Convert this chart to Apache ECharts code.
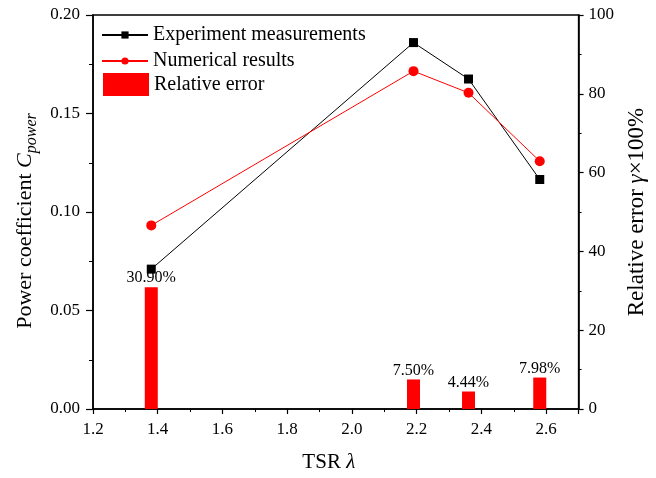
<!DOCTYPE html>
<html><head><meta charset="utf-8">
<script src="https://cdn.jsdelivr.net/npm/echarts@6/dist/echarts.min.js"></script>
<style>html,body{margin:0;padding:0;background:#fff}#c{width:656px;height:478px}</style>
</head><body><div id="c"></div>
<script>
const tsr = [1.38, 2.19, 2.36, 2.58];
const experiment = [0.071, 0.186, 0.1675, 0.1165];
const numerical = [0.0932, 0.1715, 0.1605, 0.1258];
const relError = [30.90, 7.50, 4.44, 7.98];
const errorLabels = ['30.90%', '7.50%', '4.44%', '7.98%'];

const F = 'Liberation Serif, Times New Roman, serif';
const chart = echarts.init(document.getElementById('c'), null, {renderer: 'canvas'});
const pair = (xs, ys) => xs.map((x, i) => [x, ys[i]]);
const legText = {fontFamily: F, fontSize: 20, color: '#000'};

chart.setOption({
  animation: false,
  textStyle: {fontFamily: F, color: '#000'},
  grid: {left: 93, right: 72, top: 15, bottom: 67, show: true, borderColor: '#000', borderWidth: 1.5, containLabel: false},
  legend: [{
    left: 96, top: 20, orient: 'vertical', itemGap: 6, itemWidth: 46, itemHeight: 9,
    textStyle: legText,
    data: ['Experiment measurements', 'Numerical results']
  }, {
    left: 98, top: 68, orient: 'vertical', itemWidth: 46, itemHeight: 23,
    textStyle: legText,
    data: [{name: 'Relative error', icon: 'rect'}]
  }],
  xAxis: {
    type: 'value', min: 1.2, max: 2.7, interval: 0.2,
    name: '{n|TSR }{i|λ}', nameLocation: 'middle', nameGap: 43,
    nameTextStyle: {padding: [0, 14, 0, 0], rich: {n: {fontFamily: F, fontSize: 21, color: '#000'}, i: {fontFamily: F, fontSize: 21, fontStyle: 'italic', color: '#000'}}},
    axisLine: {lineStyle: {color: '#000', width: 1.5}},
    axisTick: {inside: false, length: 5, lineStyle: {color: '#000', width: 1.2}},
    minorTick: {show: true, splitNumber: 2, length: 3, lineStyle: {color: '#000', width: 1}},
    axisLabel: {fontFamily: F, fontSize: 17, color: '#000', margin: 12, showMaxLabel: false, formatter: v => v.toFixed(1)},
    splitLine: {show: false}
  },
  yAxis: [{
    type: 'value', min: 0, max: 0.2, interval: 0.05, position: 'left',
    name: '{n|Power coefficient }{i|C}{s|power}', nameLocation: 'middle', nameGap: 47, nameRotate: 90,
    nameTextStyle: {padding: [0, 18, 0, 0], rich: {
      n: {fontFamily: F, fontSize: 22, color: '#000', lineHeight: 30},
      i: {fontFamily: F, fontSize: 22, fontStyle: 'italic', color: '#000', lineHeight: 30},
      s: {fontFamily: F, fontSize: 16, fontStyle: 'italic', color: '#000', lineHeight: 30, padding: [12, 0, 0, 0]}
    }},
    axisLine: {show: true, lineStyle: {color: '#000', width: 1.5}},
    axisTick: {inside: false, length: 7, lineStyle: {color: '#000', width: 1.2}},
    minorTick: {show: true, splitNumber: 2, length: 4, lineStyle: {color: '#000', width: 1}},
    axisLabel: {fontFamily: F, fontSize: 17, color: '#000', margin: 13, formatter: v => v.toFixed(2)},
    splitLine: {show: false}
  }, {
    type: 'value', min: 0, max: 100, interval: 20, position: 'right',
    name: '{n|Relative error }{i|γ}{n|×100%}', nameLocation: 'middle', nameGap: 42, nameRotate: 90,
    nameTextStyle: {rich: {
      n: {fontFamily: F, fontSize: 23, color: '#000'},
      i: {fontFamily: F, fontSize: 23, fontStyle: 'italic', color: '#000'}
    }},
    axisLine: {show: true, lineStyle: {color: '#000', width: 1.5}},
    axisTick: {inside: false, length: 5, lineStyle: {color: '#000', width: 1.2}},
    minorTick: {show: true, splitNumber: 2, length: 3, lineStyle: {color: '#000', width: 1}},
    axisLabel: {fontFamily: F, fontSize: 17, color: '#000', margin: 10},
    splitLine: {show: false}
  }],
  series: [{
    name: 'Relative error', type: 'bar', yAxisIndex: 1, barWidth: 13,
    itemStyle: {color: '#ff0000'},
    label: {show: true, position: 'top', distance: 1, fontFamily: F, fontSize: 16, color: '#000',
      formatter: p => errorLabels[p.dataIndex]},
    data: pair(tsr, relError)
  }, {
    name: 'Experiment measurements', type: 'line', yAxisIndex: 0,
    symbol: 'rect', symbolSize: 9, lineStyle: {color: '#000', width: 1},
    itemStyle: {color: '#000'},
    data: pair(tsr, experiment)
  }, {
    name: 'Numerical results', type: 'line', yAxisIndex: 0,
    symbol: 'circle', symbolSize: 10, lineStyle: {color: '#ff0000', width: 1},
    itemStyle: {color: '#ff0000'},
    data: pair(tsr, numerical)
  }]
});
</script></body></html>
